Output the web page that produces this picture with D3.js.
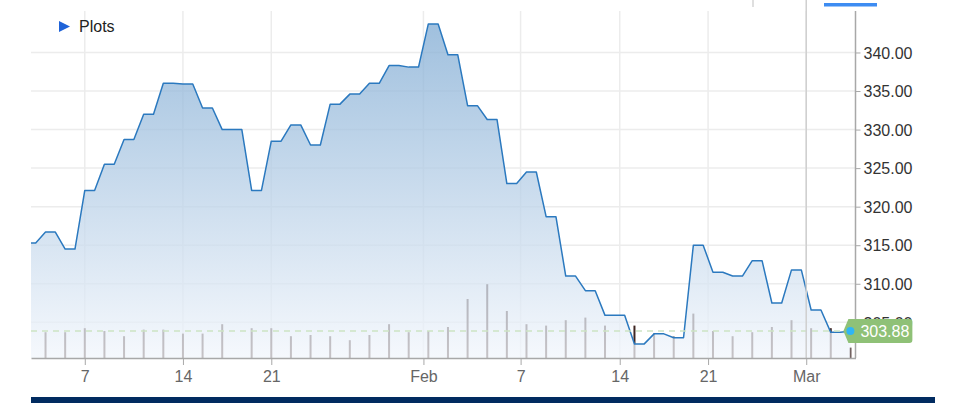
<!DOCTYPE html>
<html>
<head>
<meta charset="utf-8">
<script src="https://cdn.jsdelivr.net/npm/d3@7"></script>
<style>
  html, body { margin: 0; padding: 0; background: #fff; }
  svg { display: block; font-family: "Liberation Sans", Arial, sans-serif; }
</style>
</head>
<body>
<svg id="chart" width="953" height="414"></svg>
<script>
// ---- data ----
const slots = [-1, 0, 1, 2, 3, 4, 5, 6, 7, 8, 9,
  10.5, 11.5, 12.5, 13.5, 14.5, 15.5, 16.5, 17.5, 18.5, 19.5, 20.5, 21.5, 22.5, 23.5, 24.5, 25.5, 26.5, 27.5, 28.5,
  30, 31, 32, 33, 34, 35, 36, 37, 38, 39, 40, 41];
const closes = [315.3, 316.7, 314.5, 322.1, 325.5, 328.7, 332.0, 336.0, 335.9, 332.8, 330.0,
  322.1, 328.5, 330.6, 328.0, 333.3, 334.6, 336.0, 338.3, 338.1, 343.7, 339.7, 333.1, 331.3, 323.0, 324.5, 318.7, 311.0, 309.1, 305.9,
  302.2, 303.5, 303.0, 315.0, 311.5, 311.0, 313.0, 307.5, 311.8, 306.6, 303.7, 303.88];
const volumes = [null, 12.9, 12.9, 14.9, 13.5, 10.9, 14.2, 14.2, 12.2, 12.2, 16.9,
  14.9, 14.9, 10.9, 11.5, 10.9, 8.9, 11.5, 16.9, 12.9, 13.5, 15.5, 29.5, 36.9, 23.5, 16.9, 16.2, 18.9, 20.2, 16.2,
  16.2, 12.2, 10.7, 22.2, 13.5, 10.9, 12.9, 15.5, 18.9, 14.9, 14.9, 5.2];
const tickSlots = [2, 7, 11.5, 19.25, 24.2, 29.25, 33.75, 38.75];
const tickLabels = ["7", "14", "21", "Feb", "7", "14", "21", "Mar"];
const yTicks = [305, 310, 315, 320, 325, 330, 335, 340];
const lastPrice = 303.88;
const legendLabel = "Plots";

const data = slots.map((s, i) => ({ slot: s, close: closes[i], vol: volumes[i] }));

// ---- layout ----
const L = 31, R = 855.5, T = 11, B = 358;
const svg = d3.select("#chart");

const x = d3.scaleLinear().domain([-0.74, 41.26]).range([L, R]);
const y = d3.scaleLinear().domain([300.37, 345.38]).range([B, T]);
const yv = d3.scaleLinear().domain([0, 50]).range([B, B - 100]);

const H = (x(1) - x(0)) / 2;

// custom curve: hold value flat, then move diagonally over the last half step
function StepDiag(context) { this._context = context; }
StepDiag.prototype = {
  areaStart() { this._line = 0; },
  areaEnd() { this._line = NaN; },
  lineStart() { this._point = 0; },
  lineEnd() {
    if (this._line || (this._line !== 0 && this._point === 1)) this._context.closePath();
    this._line = 1 - this._line;
  },
  point(px, py) {
    px = +px; py = +py;
    if (this._point === 0) {
      this._point = 1;
      this._line ? this._context.lineTo(px, py) : this._context.moveTo(px, py);
    } else {
      this._point = 2;
      const dir = Math.sign(px - this._x) || 1;
      this._context.lineTo(px - dir * H, this._y);
      this._context.lineTo(px, py);
    }
    this._x = px; this._y = py;
  }
};
const curveStepDiag = ctx => new StepDiag(ctx);

const defs = svg.append("defs");
defs.append("clipPath").attr("id", "plotClip")
  .append("rect").attr("x", L).attr("y", T).attr("width", R - L).attr("height", B - T);

const grad = defs.append("linearGradient").attr("id", "areaGrad")
  .attr("gradientUnits", "userSpaceOnUse")
  .attr("x1", 0).attr("x2", 0).attr("y1", y(d3.max(closes))).attr("y2", B);
grad.append("stop").attr("offset", 0).attr("stop-color", "rgb(128,171,211)").attr("stop-opacity", 0.75);
grad.append("stop").attr("offset", 1).attr("stop-color", "rgb(242,246,252)").attr("stop-opacity", 0.75);

// ---- top decorations ----
svg.append("line").attr("x1", 753).attr("x2", 753).attr("y1", 0).attr("y2", 7)
  .attr("stroke", "#d4d4d4").attr("stroke-width", 1.5);
svg.append("rect").attr("x", 824).attr("y", 3).attr("width", 53).attr("height", 3.5).attr("fill", "#3d8cf2");

// ---- gridlines ----
const grid = svg.append("g");
grid.selectAll("line.h").data(yTicks).join("line")
  .attr("x1", L).attr("x2", R).attr("y1", d => y(d)).attr("y2", d => y(d))
  .attr("stroke", "#ececec").attr("stroke-width", 1.5);
grid.selectAll("line.v").data(tickSlots).join("line")
  .attr("x1", d => x(d)).attr("x2", d => x(d)).attr("y1", T).attr("y2", B)
  .attr("stroke", "#ececec").attr("stroke-width", 1.5);

const plot = svg.append("g").attr("clip-path", "url(#plotClip)");

// ---- volume bars ----
plot.selectAll("rect.vol").data(data.filter(d => d.vol != null)).join("rect")
  .attr("class", "vol")
  .attr("x", d => x(d.slot) - 1).attr("width", 2)
  .attr("y", d => yv(d.vol)).attr("height", d => B - yv(d.vol))
  .attr("fill", "#3e2521");

// ---- area + line ----
const area = d3.area().x(d => x(d.slot)).y0(B).y1(d => y(d.close)).curve(curveStepDiag);
plot.append("path").datum(data).attr("d", area).attr("fill", "url(#areaGrad)");

// crosshair line
svg.append("line").attr("x1", x(tickSlots[7])).attr("x2", x(tickSlots[7])).attr("y1", 0).attr("y2", B)
  .attr("stroke", "#cfcfcf").attr("stroke-width", 1.5);

const line = d3.line().x(d => x(d.slot)).y(d => y(d.close)).curve(curveStepDiag);
plot.append("path").datum(data).attr("d", line)
  .attr("fill", "none").attr("stroke", "#2b79bf").attr("stroke-width", 1.5).attr("stroke-linejoin", "round");

// last price dashed line
plot.append("line").attr("x1", L).attr("x2", R).attr("y1", y(lastPrice)).attr("y2", y(lastPrice))
  .attr("stroke", "#cde3c3").attr("stroke-width", 1.5).attr("stroke-dasharray", "6,5");

// ---- axes ----
const xAxis = d3.axisBottom(x).tickValues(tickSlots).tickFormat((d, i) => tickLabels[i]).tickSize(7).tickSizeOuter(0);
const gx = svg.append("g").attr("transform", `translate(0,${B})`).call(xAxis);
gx.select(".domain").attr("stroke", "#a8a8a8").attr("stroke-width", 1.5);
gx.selectAll(".tick line").attr("stroke", "#a8a8a8");
gx.selectAll(".tick text").attr("y", 24).attr("dy", 0)
  .attr("fill", "#666").style("font-size", "16px").style("font-family", "'Liberation Sans', Arial, sans-serif");

const yAxis = d3.axisRight(y).tickValues(yTicks).tickFormat(d3.format(".2f")).tickSize(5).tickSizeOuter(0);
const gy = svg.append("g").attr("transform", `translate(${R},0)`).call(yAxis);
gy.select(".domain").attr("stroke", "#a8a8a8").attr("stroke-width", 1.5).attr("d", `M0,${T}V${B}`);
gy.selectAll(".tick line").attr("stroke", "#a8a8a8");
gy.selectAll(".tick text").attr("x", 8).attr("dy", "0.36em")
  .attr("fill", "#333").style("font-size", "16px").style("font-family", "'Liberation Sans', Arial, sans-serif");

// ---- last price label ----
const ly = y(lastPrice);
const lx = x(slots[slots.length - 1]);
const lbl = svg.append("g");
lbl.append("path")
  .attr("d", `M${lx - 7},${ly} L${lx - 2},${ly - 12} L${lx + 59},${ly - 12} Q${lx + 62},${ly - 12} ${lx + 62},${ly - 9}
              L${lx + 62},${ly + 9} Q${lx + 62},${ly + 12} ${lx + 59},${ly + 12} L${lx - 2},${ly + 12} Z`)
  .attr("fill", "#8fc177");
lbl.append("text").attr("x", lx + 10).attr("y", ly).attr("dy", "0.36em")
  .attr("fill", "#fff").style("font-size", "16px").text(lastPrice.toFixed(2));
svg.append("circle").attr("cx", lx).attr("cy", ly).attr("r", 4).attr("fill", "#2fb5f5");

// ---- legend ----
svg.append("path").attr("d", "M59,21 L70,26.5 L59,32 Z").attr("fill", "#1f63d8");
svg.append("text").attr("x", 79).attr("y", 32).attr("fill", "#222").style("font-size", "16px").text(legendLabel);

// ---- bottom navy bar ----
svg.append("rect").attr("x", L).attr("y", 397).attr("width", 935 - L).attr("height", 6).attr("fill", "#012b60");
</script>
</body>
</html>
